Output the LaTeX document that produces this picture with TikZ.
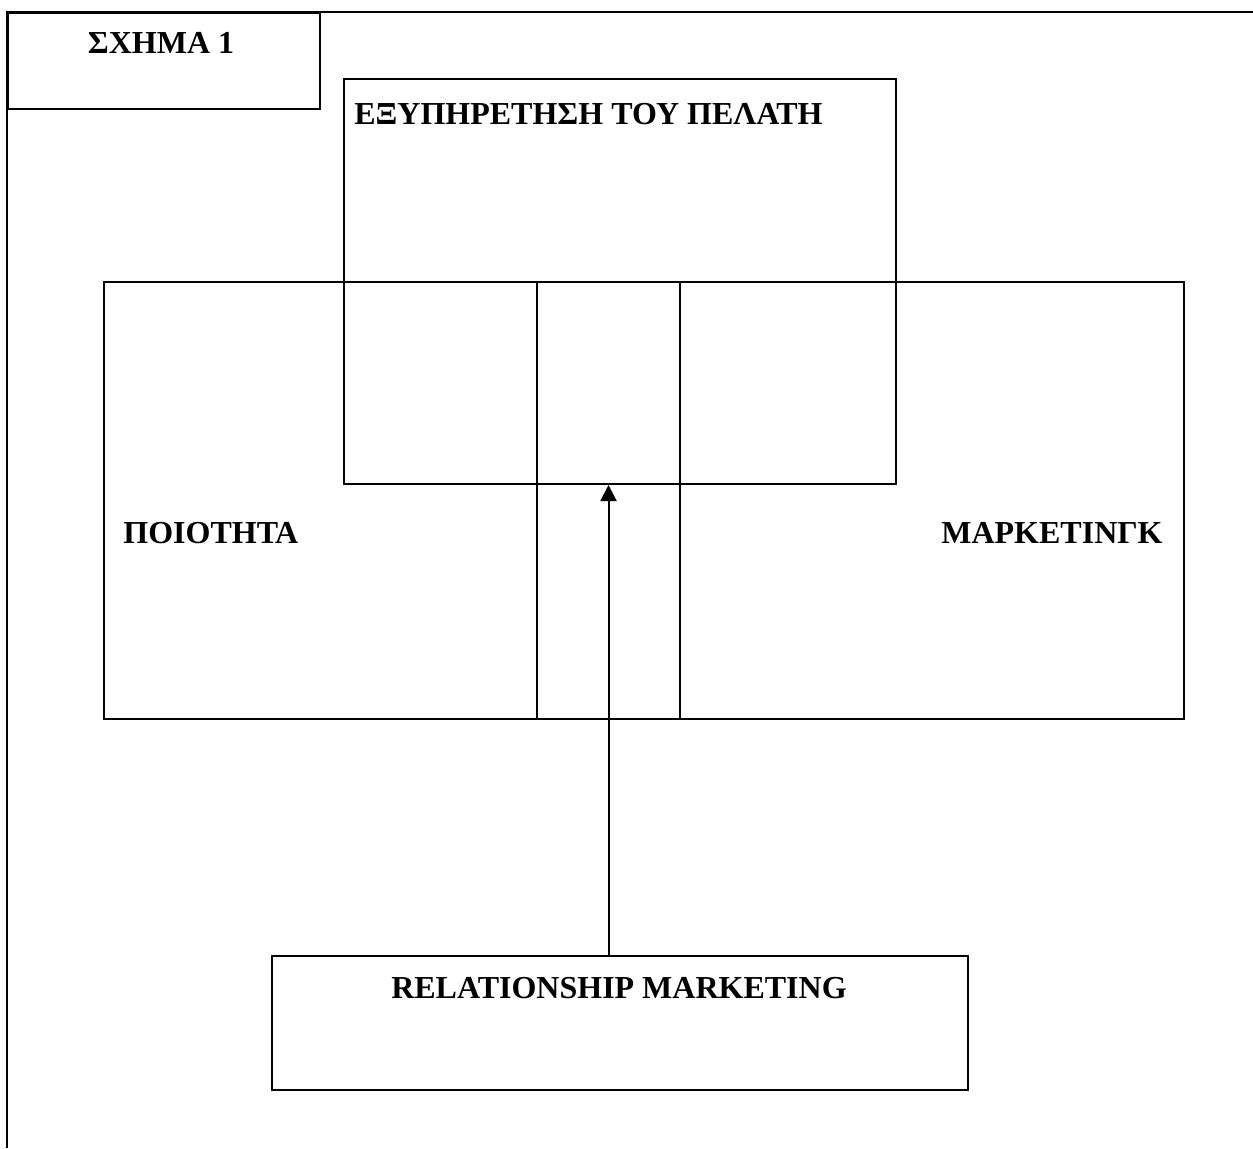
\documentclass[tikz,border=0pt]{standalone}
\usepackage{fontspec}
\setmainfont{Liberation Serif}
\usetikzlibrary{arrows.meta}
\begin{document}
\begin{tikzpicture}[x=0.5pt,y=-0.5pt,
  box/.style={draw,line width=1pt,inner sep=0pt,anchor=north west},
  lbl/.style={font=\fontsize{16}{19}\selectfont\bfseries,inner sep=0pt,anchor=base west},
  conn/.style={line width=1pt,-{Triangle[length=8pt,width=8pt]}}]
\useasboundingbox (0,0) rectangle (1253,1148);
% outer frame (top and left only)
\coordinate (fTL) at (7,12);
\coordinate (fTR) at (1253,12);
\coordinate (fBL) at (7,1148);
\draw[line width=1pt] (fBL) -- (fTL) -- (fTR);
% title box
\node[box,minimum width=156pt,minimum height=48pt] (title) at (7,12) {};
% service box
\node[box,minimum width=276pt,minimum height=202.5pt] (serv) at (343,78) {};
% big box
\node[box,minimum width=540pt,minimum height=218.5pt] (big) at (103,281) {};
% center box
\node[box,minimum width=71.5pt,minimum height=218.5pt] (mid) at (536,281) {};
% relationship marketing box
\node[box,minimum width=348pt,minimum height=67pt] (rm) at (271,955) {};
% texts
\node[lbl,anchor=base] (t1) at (161,53) {ΣΧΗΜΑ 1};
\node[lbl] (t2) at (354,124) {ΕΞΥΠΗΡΕΤΗΣΗ ΤΟΥ ΠΕΛΑΤΗ};
\node[lbl] (t3) at (123,543) {ΠΟΙΟΤΗΤΑ};
\node[lbl,anchor=base east] (t4) at (1163,543) {ΜΑΡΚΕΤΙΝΓΚ};
\node[lbl,anchor=base] (t5) at (619,998) {RELATIONSHIP MARKETING};
% arrow
\draw[conn] (rm.north -| mid.south) -- (mid.center |- serv.south);
\end{tikzpicture}
\end{document}
